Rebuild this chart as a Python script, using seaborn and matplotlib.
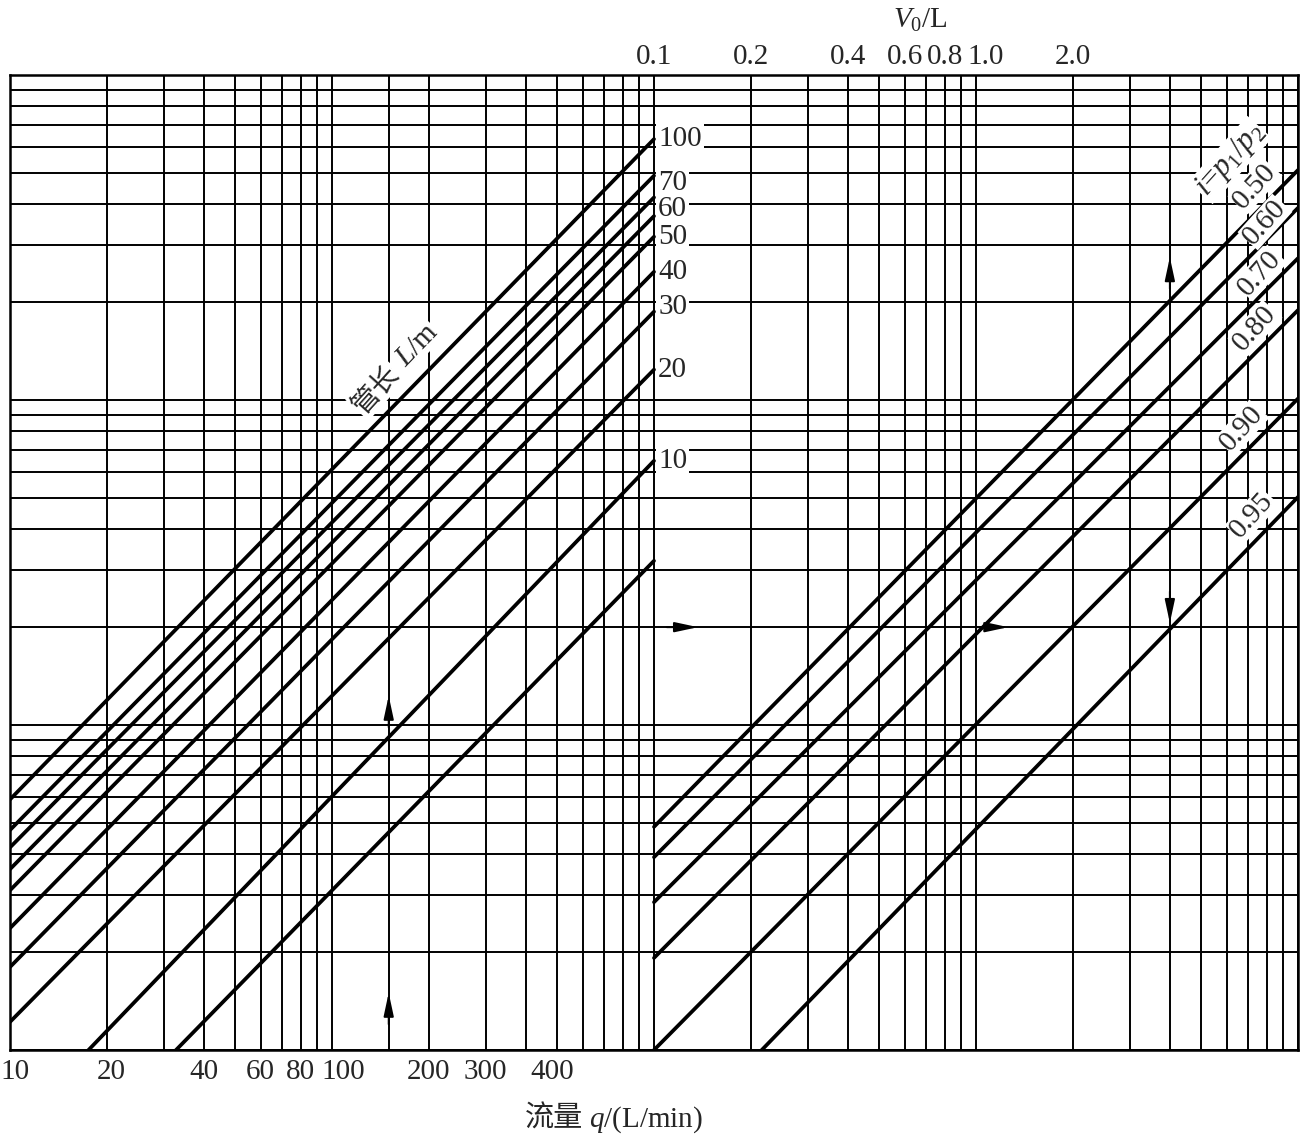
import numpy as np
import pandas as pd
import seaborn as sns
import matplotlib
matplotlib.use('Agg')
import matplotlib.pyplot as plt
from matplotlib.ticker import LogLocator, NullLocator, NullFormatter

# Set up plot style
sns.set_style('white')
plt.rcParams['font.family'] = ['Liberation Serif', 'Noto Sans CJK SC']
plt.rcParams['mathtext.fontset'] = 'custom'
plt.rcParams['mathtext.rm'] = 'Liberation Serif'
plt.rcParams['mathtext.it'] = 'Liberation Serif:italic'

# Axis ticks
q_ticks = [10, 20, 40, 60, 80, 100, 200, 300, 400]
v0_ticks = [0.1, 0.2, 0.4, 0.6, 0.8, 1.0, 2.0]
v0_tick_labels = ['0.1', '0.2', '0.4', '0.6', '0.8', '1.0', '2.0']

# Pipe length lines (left panel), y read at q = 10 and q = 1000 L/min
pipe_label = ['100', '70', '60', '', '50', '40', '30', '20', '10', '']
pipe_y_q10 = [5.9, 4.75, 4.2, 3.6, 3.1, 2.37, 1.8, 1.22, 0.56, 0.30]
pipe_y_q1000 = [635, 490, 420, 368, 318, 248, 187, 124, 65, 32]

# Pressure ratio lines (right panel), y read at V0 = 0.1 and V0 = 10 L
ratio_label = ['0.50', '0.60', '0.70', '0.80', '0.90', '0.95']
ratio_y_v01 = [4.86, 3.92, 2.85, 1.92, 1.0, 0.455]
ratio_y_v10 = [510, 390, 273, 189, 101, 50.3]

# Example reading path
path_q = 150
path_v0 = 4.0
path_y = 20
arrow_up_q = [1.5, 12.3]        # y of arrow tips on q = 150
arrow_up_v0 = [275]             # y of arrow tip on V0 = 4 (up)
arrow_down_v0 = [20.6]          # y of arrow tip on V0 = 4 (down)
arrow_right_v0 = [0.137, 1.26]  # V0 of arrow tips on y = 20

V_SHIFT = 1e4  # right panel: V0 drawn at x = V0 * 1e4 on the shared log axis

rows = []
for k, (y0, y1) in enumerate(zip(pipe_y_q10, pipe_y_q1000)):
    rows += [dict(x=10, y=y0, curve=f'L{k}'), dict(x=1000, y=y1, curve=f'L{k}')]
for k, (y0, y1) in enumerate(zip(ratio_y_v01, ratio_y_v10)):
    rows += [dict(x=0.1 * V_SHIFT, y=y0, curve=f'i{k}'), dict(x=10 * V_SHIFT, y=y1, curve=f'i{k}')]
df = pd.DataFrame(rows)

W, H = 1300, 1134
fig = plt.figure(figsize=(W / 100, H / 100), dpi=100)
ax = fig.add_axes([10 / W, 1 - 1050 / H, 1288 / W, 975 / H])
ax.set_xscale('log')
ax.set_yscale('log')
ax.set_xlim(10, 1e5)
ax.set_ylim(1, 1000)

# grid on every log subdivision
ax.xaxis.set_major_locator(NullLocator())
ax.xaxis.set_minor_locator(LogLocator(base=10, subs=np.arange(1, 10), numticks=100))
ax.xaxis.set_minor_formatter(NullFormatter())
ax.yaxis.set_major_locator(NullLocator())
ax.yaxis.set_minor_locator(LogLocator(base=10, subs=np.arange(1, 10), numticks=100))
ax.yaxis.set_minor_formatter(NullFormatter())
ax.grid(which='both', color='black', lw=1.4)
ax.set_axisbelow(True)
ax.tick_params(which='both', length=0)
for s in ax.spines.values():
    s.set_color('black')
    s.set_linewidth(1.8)
ax.axvline(path_q, color='black', lw=1.4, zorder=1)

# diagonal lines
sns.lineplot(data=df, x='x', y='y', units='curve', estimator=None, color='black',
             lw=2.7, legend=False, ax=ax)
ax.set_xlabel('')
ax.set_ylabel('')

# tick labels (bottom: q, top: V0)
q_dx = {10: 3.6, 20: 2.9, 100: 7.9, 400: 18.7}
for v in q_ticks:
    ax.annotate(str(v), xy=(v, 0), xycoords=('data', 'axes fraction'),
                xytext=(q_dx.get(v, 0), -16), textcoords='offset points',
                ha='center', va='center', fontsize=21)
v_dx = {'1.0': 7.2}
for v, lbl in zip(v0_ticks, v0_tick_labels):
    ax.annotate(lbl, xy=(v * V_SHIFT, 1), xycoords=('data', 'axes fraction'),
                xytext=(v_dx.get(lbl, 0), 13), textcoords='offset points',
                ha='center', va='center', fontsize=21, annotation_clip=False)

# pipe length labels
label_dy = {'70': -5, '60': -8.5, '30': 3}
for lbl, y1 in zip(pipe_label, pipe_y_q1000):
    if not lbl:
        continue
    ax.annotate(lbl, xy=(1000, y1), xytext=(3, label_dy.get(lbl, 0)), textcoords='offset points',
                ha='left', va='center', fontsize=21, zorder=4,
                bbox=dict(fc='white', ec='none', pad=1.5))

# ratio labels (placed in figure pixels)
ratio_pos = [(1255, 186), (1265, 222), (1260, 273), (1255, 328), (1242, 428), (1252, 515)]
for lbl, (px, py) in zip(ratio_label, ratio_pos):
    fig.text(px / W, 1 - py / H, lbl, ha='center', va='center', rotation=48,
             rotation_mode='anchor', fontsize=21, zorder=5,
             bbox=dict(fc='white', ec='none', pad=0.5))
fig.text(1230 / W, 1 - 160 / H, r'$i$=$p_1$/$p_2$', ha='center', va='center', rotation=48,
         rotation_mode='anchor', fontsize=22, zorder=5,
         bbox=dict(fc='white', ec='none', pad=0.5))

# pipe length title, CJK part and math part drawn separately
fig.text(376 / W, 1 - 389 / H, '管长', family='Noto Sans CJK SC', ha='center', va='center',
         rotation=48, rotation_mode='anchor', fontsize=20, zorder=5,
         bbox=dict(fc='white', ec='none', pad=0.5))
fig.text(417 / W, 1 - 345 / H, r'$L$/m', ha='center', va='center', rotation=46,
         rotation_mode='anchor', fontsize=21, zorder=5,
         bbox=dict(fc='white', ec='none', pad=0.5))

# axis titles
fig.text(920 / W, 1 - 20 / H, r'$V_0$/L', ha='center', va='center', fontsize=21)
fig.text(583 / W, 1 - 1127 / H, '流量', family='Noto Sans CJK SC', ha='right',
         va='baseline', fontsize=21)
fig.text(589 / W, 1 - 1127 / H, r'$q$/(L/min)', ha='left', va='baseline', fontsize=21)

# arrows
arrow_kw = dict(arrowstyle='-|>,head_length=1.4,head_width=0.3', color='black', lw=1.4,
                shrinkA=0, shrinkB=0)
for y in arrow_up_q:
    ax.annotate('', xy=(path_q, y), xytext=(path_q, y / 1.25), arrowprops=arrow_kw)
for y in arrow_up_v0:
    ax.annotate('', xy=(path_v0 * V_SHIFT, y), xytext=(path_v0 * V_SHIFT, y / 1.25), arrowprops=arrow_kw)
for y in arrow_down_v0:
    ax.annotate('', xy=(path_v0 * V_SHIFT, y), xytext=(path_v0 * V_SHIFT, y * 1.25), arrowprops=arrow_kw)
for v in arrow_right_v0:
    ax.annotate('', xy=(v * V_SHIFT, path_y), xytext=(v * V_SHIFT / 1.25, path_y), arrowprops=arrow_kw)

fig.savefig('out.png', dpi=100)
